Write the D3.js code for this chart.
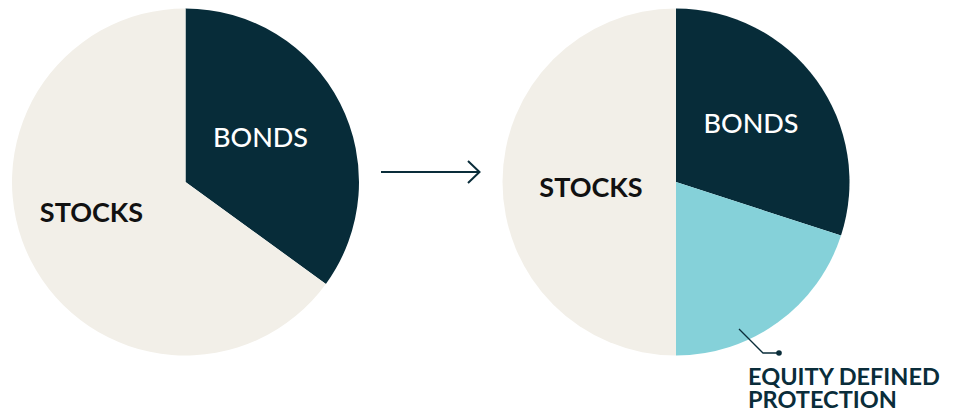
<!DOCTYPE html>
<head>
    <meta charset="utf-8">
    <title>Stocks / bonds to equity defined protection</title>
    <style>
        body { margin: 0; background: #fff; }
        svg { display: block; font-family: 'Lato', sans-serif; }
    </style>
</head>
<body>
    <script src="https://d3js.org/d3.v7.min.js"></script>
    <script>

        // before / after allocations (% of portfolio)
        var beforeLabels = ['BONDS', 'STOCKS'];
        var beforeValues = [35, 65];

        var afterLabels = ['BONDS', 'EQUITY DEFINED PROTECTION', 'STOCKS'];
        var afterValues = [30, 20, 50];

        var colors = {
            'BONDS': '#072c39',
            'STOCKS': '#f2efe8',
            'EQUITY DEFINED PROTECTION': '#85d1d9'
        };
        var textColors = { 'BONDS': '#ffffff', 'STOCKS': '#111111' };
        var textWeights = { 'BONDS': 500, 'STOCKS': 700 };

        var width = 961, height = 415,
            radius = 173.5;

        var svg = d3.select('body').append('svg')
            .attr('width', width)
            .attr('height', height);

        var pie = d3.pie().sort(null).value(function (d) { return d.value; });
        var arc = d3.arc().innerRadius(0).outerRadius(radius);

        function drawPie(cx, labels, values, labelPos) {
            var data = labels.map(function (l, i) { return { label: l, value: values[i] }; });
            var g = svg.append('g')
                .attr('transform', 'translate(' + cx + ',' + 182 + ')');

            var slices = pie(data);

            g.selectAll('path')
                .data(slices)
                .enter().append('path')
                .attr('d', arc)
                .style('fill', function (d) { return colors[d.data.label]; });

            g.selectAll('text')
                .data(slices.filter(function (d) { return labelPos[d.data.label]; }))
                .enter().append('text')
                .attr('x', function (d) { return labelPos[d.data.label][0]; })
                .attr('y', function (d) { return labelPos[d.data.label][1]; })
                .attr('text-anchor', 'middle')
                .style('font-size', '27px')
                .style('font-weight', function (d) { return textWeights[d.data.label]; })
                .style('fill', function (d) { return textColors[d.data.label]; })
                .text(function (d) { return d.data.label; });

            return g;
        }

        drawPie(185.5, beforeLabels, beforeValues, {
            'BONDS': [75, -35],
            'STOCKS': [-94, 40]
        });

        drawPie(676, afterLabels, afterValues, {
            'BONDS': [75, -49],
            'STOCKS': [-85, 15]
        });

        // arrow between the two pies
        var ink = '#0a2d3a';
        svg.append('line')
            .attr('x1', 381).attr('y1', 172)
            .attr('x2', 479).attr('y2', 172)
            .style('stroke', ink).style('stroke-width', 2);
        svg.append('path')
            .attr('d', 'M468,161L479.5,172L468,183')
            .style('fill', 'none').style('stroke', ink).style('stroke-width', 2);

        // callout for the equity defined protection slice
        svg.append('path')
            .attr('d', 'M739,329L763,353L779,353')
            .style('fill', 'none').style('stroke', ink).style('stroke-width', 1.3);
        svg.append('circle')
            .attr('cx', 779).attr('cy', 353).attr('r', 2.8)
            .style('fill', ink);

        svg.append('text')
            .attr('x', 748).attr('y', 385)
            .style('font-size', '23.5px')
            .style('font-weight', 700)
            .style('fill', ink)
            .text('EQUITY DEFINED');
        svg.append('text')
            .attr('x', 748).attr('y', 408)
            .style('font-size', '23.5px')
            .style('font-weight', 700)
            .style('fill', ink)
            .text('PROTECTION');

    </script>
</body>
